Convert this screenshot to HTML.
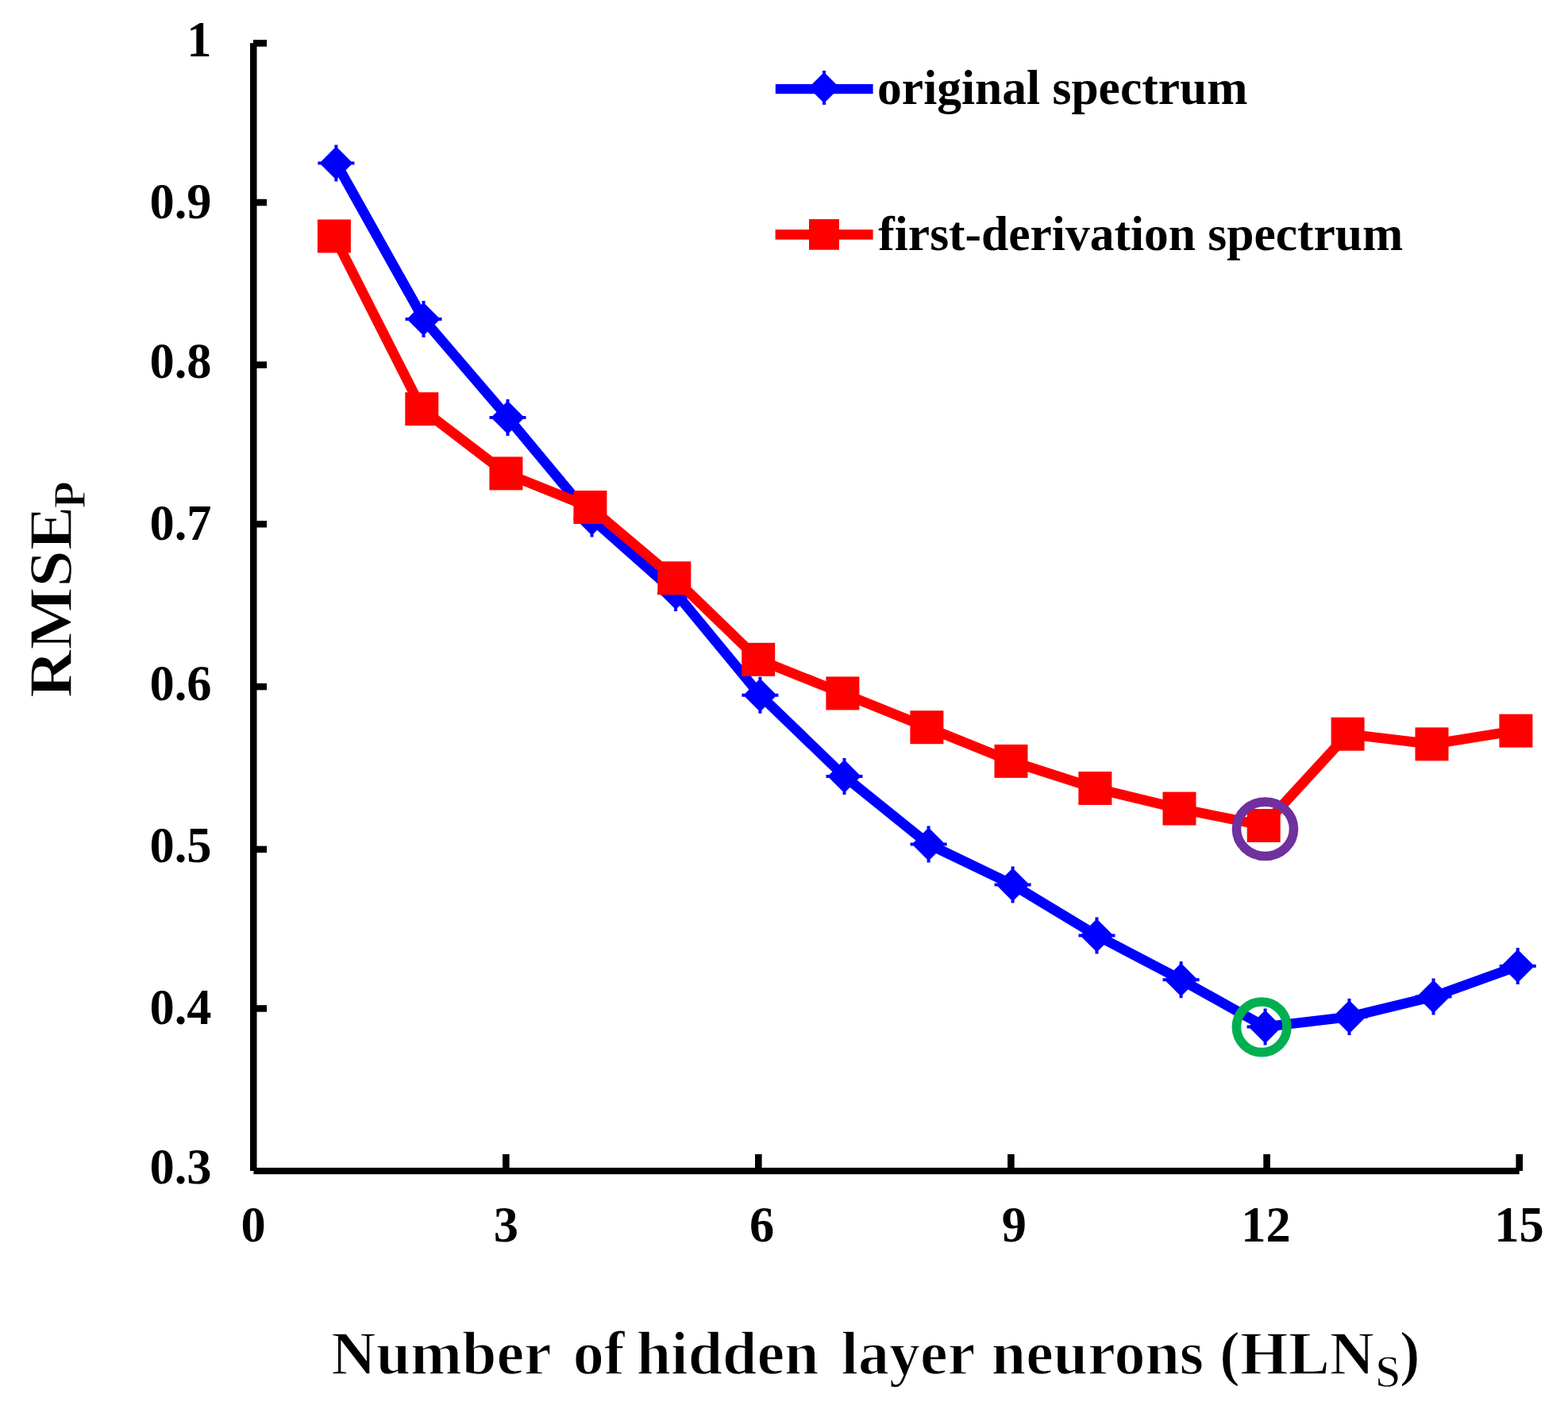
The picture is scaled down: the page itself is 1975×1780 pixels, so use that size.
<!DOCTYPE html><html><head><meta charset="utf-8"><title>RMSEP vs HLNs</title><style>html,body{margin:0;padding:0;background:#fff}svg{display:block}text{font-family:"Liberation Serif","Times New Roman",serif;font-weight:bold;fill:#000}</style></head><body>
<svg width="1975" height="1780" viewBox="0 0 1975 1780">
<rect x="0" y="0" width="1975" height="1780" fill="#fff"/>
<g fill="#000">
<rect x="315" y="54.3" width="8.5" height="1420.7"/>
<rect x="319.4" y="1471" width="1594.3" height="8.2"/>
<rect x="319" y="50.2" width="17" height="8.5"/>
<rect x="319" y="250.8" width="17" height="8.5"/>
<rect x="319" y="455.4" width="17" height="8.5"/>
<rect x="319" y="656.0" width="17" height="8.5"/>
<rect x="319" y="860.8" width="17" height="8.5"/>
<rect x="319" y="1065.7" width="17" height="8.5"/>
<rect x="319" y="1266.2" width="17" height="8.5"/>
<rect x="633.0" y="1454" width="8.6" height="21"/>
<rect x="951.0" y="1454" width="8.6" height="21"/>
<rect x="1269.1" y="1454" width="8.6" height="21"/>
<rect x="1591.3" y="1454" width="8.6" height="21"/>
<rect x="1909.4" y="1454" width="8.6" height="21"/>
</g>
<g font-size="62.4" text-anchor="end">
<text x="266.5" y="70.5">1</text>
<text x="266.5" y="275.1">0.9</text>
<text x="266.5" y="475.6">0.8</text>
<text x="266.5" y="679.8">0.7</text>
<text x="266.5" y="881.5">0.6</text>
<text x="266.5" y="1085.9">0.5</text>
<text x="266.5" y="1290.4">0.4</text>
<text x="266.5" y="1490.9">0.3</text>
</g>
<g font-size="62.4" text-anchor="middle">
<text x="319.2" y="1564">0</text>
<text x="637.3" y="1564">3</text>
<text x="959.5" y="1564">6</text>
<text x="1277.4" y="1564">9</text>
<text x="1594.5" y="1564">12</text>
<text x="1913.5" y="1564">15</text>
</g>
<polyline fill="none" stroke="#0000ff" stroke-width="12.7" stroke-linejoin="round" points="423.4,205.5 533.5,402.1 639.5,525.9 745.5,653.4 851.1,746.9 957.4,875.8 1063.5,978.0 1169.6,1063.5 1275.6,1114.5 1381.5,1178.5 1487.6,1234.2 1593.6,1293.5 1699.5,1281.0 1805.5,1255.4 1911.7,1217.1"/>
<polygon fill="#0000ff" points="421.4,182.5 425.4,182.5 425.4,186.5 442.4,203.5 446.4,203.5 446.4,207.5 442.4,207.5 425.4,224.5 425.4,228.5 421.4,228.5 421.4,224.5 404.4,207.5 400.4,207.5 400.4,203.5 404.4,203.5 421.4,186.5"/>
<polygon fill="#0000ff" points="531.5,379.1 535.5,379.1 535.5,383.1 552.5,400.1 556.5,400.1 556.5,404.1 552.5,404.1 535.5,421.1 535.5,425.1 531.5,425.1 531.5,421.1 514.5,404.1 510.5,404.1 510.5,400.1 514.5,400.1 531.5,383.1"/>
<polygon fill="#0000ff" points="637.5,502.9 641.5,502.9 641.5,506.9 658.5,523.9 662.5,523.9 662.5,527.9 658.5,527.9 641.5,544.9 641.5,548.9 637.5,548.9 637.5,544.9 620.5,527.9 616.5,527.9 616.5,523.9 620.5,523.9 637.5,506.9"/>
<polygon fill="#0000ff" points="743.5,630.4 747.5,630.4 747.5,634.4 764.5,651.4 768.5,651.4 768.5,655.4 764.5,655.4 747.5,672.4 747.5,676.4 743.5,676.4 743.5,672.4 726.5,655.4 722.5,655.4 722.5,651.4 726.5,651.4 743.5,634.4"/>
<polygon fill="#0000ff" points="849.1,723.9 853.1,723.9 853.1,727.9 870.1,744.9 874.1,744.9 874.1,748.9 870.1,748.9 853.1,765.9 853.1,769.9 849.1,769.9 849.1,765.9 832.1,748.9 828.1,748.9 828.1,744.9 832.1,744.9 849.1,727.9"/>
<polygon fill="#0000ff" points="955.4,852.8 959.4,852.8 959.4,856.8 976.4,873.8 980.4,873.8 980.4,877.8 976.4,877.8 959.4,894.8 959.4,898.8 955.4,898.8 955.4,894.8 938.4,877.8 934.4,877.8 934.4,873.8 938.4,873.8 955.4,856.8"/>
<polygon fill="#0000ff" points="1061.5,955.0 1065.5,955.0 1065.5,959.0 1082.5,976.0 1086.5,976.0 1086.5,980.0 1082.5,980.0 1065.5,997.0 1065.5,1001.0 1061.5,1001.0 1061.5,997.0 1044.5,980.0 1040.5,980.0 1040.5,976.0 1044.5,976.0 1061.5,959.0"/>
<polygon fill="#0000ff" points="1167.6,1040.5 1171.6,1040.5 1171.6,1044.5 1188.6,1061.5 1192.6,1061.5 1192.6,1065.5 1188.6,1065.5 1171.6,1082.5 1171.6,1086.5 1167.6,1086.5 1167.6,1082.5 1150.6,1065.5 1146.6,1065.5 1146.6,1061.5 1150.6,1061.5 1167.6,1044.5"/>
<polygon fill="#0000ff" points="1273.6,1091.5 1277.6,1091.5 1277.6,1095.5 1294.6,1112.5 1298.6,1112.5 1298.6,1116.5 1294.6,1116.5 1277.6,1133.5 1277.6,1137.5 1273.6,1137.5 1273.6,1133.5 1256.6,1116.5 1252.6,1116.5 1252.6,1112.5 1256.6,1112.5 1273.6,1095.5"/>
<polygon fill="#0000ff" points="1379.5,1155.5 1383.5,1155.5 1383.5,1159.5 1400.5,1176.5 1404.5,1176.5 1404.5,1180.5 1400.5,1180.5 1383.5,1197.5 1383.5,1201.5 1379.5,1201.5 1379.5,1197.5 1362.5,1180.5 1358.5,1180.5 1358.5,1176.5 1362.5,1176.5 1379.5,1159.5"/>
<polygon fill="#0000ff" points="1485.6,1211.2 1489.6,1211.2 1489.6,1215.2 1506.6,1232.2 1510.6,1232.2 1510.6,1236.2 1506.6,1236.2 1489.6,1253.2 1489.6,1257.2 1485.6,1257.2 1485.6,1253.2 1468.6,1236.2 1464.6,1236.2 1464.6,1232.2 1468.6,1232.2 1485.6,1215.2"/>
<polygon fill="#0000ff" points="1591.6,1270.5 1595.6,1270.5 1595.6,1274.5 1612.6,1291.5 1616.6,1291.5 1616.6,1295.5 1612.6,1295.5 1595.6,1312.5 1595.6,1316.5 1591.6,1316.5 1591.6,1312.5 1574.6,1295.5 1570.6,1295.5 1570.6,1291.5 1574.6,1291.5 1591.6,1274.5"/>
<polygon fill="#0000ff" points="1697.5,1258.0 1701.5,1258.0 1701.5,1262.0 1718.5,1279.0 1722.5,1279.0 1722.5,1283.0 1718.5,1283.0 1701.5,1300.0 1701.5,1304.0 1697.5,1304.0 1697.5,1300.0 1680.5,1283.0 1676.5,1283.0 1676.5,1279.0 1680.5,1279.0 1697.5,1262.0"/>
<polygon fill="#0000ff" points="1803.5,1232.4 1807.5,1232.4 1807.5,1236.4 1824.5,1253.4 1828.5,1253.4 1828.5,1257.4 1824.5,1257.4 1807.5,1274.4 1807.5,1278.4 1803.5,1278.4 1803.5,1274.4 1786.5,1257.4 1782.5,1257.4 1782.5,1253.4 1786.5,1253.4 1803.5,1236.4"/>
<polygon fill="#0000ff" points="1909.7,1194.1 1913.7,1194.1 1913.7,1198.1 1930.7,1215.1 1934.7,1215.1 1934.7,1219.1 1930.7,1219.1 1913.7,1236.1 1913.7,1240.1 1909.7,1240.1 1909.7,1236.1 1892.7,1219.1 1888.7,1219.1 1888.7,1215.1 1892.7,1215.1 1909.7,1198.1"/>
<polyline fill="none" stroke="#ff0000" stroke-width="12.7" stroke-linejoin="round" points="420.9,297.5 531.3,515.2 637.4,596.4 743.4,639.0 849.3,728.3 955.2,830.8 1061.4,873.4 1167.4,916.2 1273.5,958.9 1379.4,993.0 1485.5,1018.6 1591.7,1040.0 1697.6,924.7 1803.5,937.4 1909.4,920.6"/>
<rect fill="#ff0000" x="399.9" y="276.5" width="42" height="42"/>
<rect fill="#ff0000" x="510.3" y="494.2" width="42" height="42"/>
<rect fill="#ff0000" x="616.4" y="575.4" width="42" height="42"/>
<rect fill="#ff0000" x="722.4" y="618.0" width="42" height="42"/>
<rect fill="#ff0000" x="828.3" y="707.3" width="42" height="42"/>
<rect fill="#ff0000" x="934.2" y="809.8" width="42" height="42"/>
<rect fill="#ff0000" x="1040.4" y="852.4" width="42" height="42"/>
<rect fill="#ff0000" x="1146.4" y="895.2" width="42" height="42"/>
<rect fill="#ff0000" x="1252.5" y="937.9" width="42" height="42"/>
<rect fill="#ff0000" x="1358.4" y="972.0" width="42" height="42"/>
<rect fill="#ff0000" x="1464.5" y="997.6" width="42" height="42"/>
<rect fill="#ff0000" x="1570.7" y="1019.0" width="42" height="42"/>
<rect fill="#ff0000" x="1676.6" y="903.7" width="42" height="42"/>
<rect fill="#ff0000" x="1782.5" y="916.4" width="42" height="42"/>
<rect fill="#ff0000" x="1888.4" y="899.6" width="42" height="42"/>
<ellipse cx="1593.5" cy="1044.3" rx="36" ry="34.2" fill="none" stroke="#7030a0" stroke-width="11.6"/>
<ellipse cx="1589.2" cy="1293.8" rx="31.8" ry="31.8" fill="none" stroke="#00b050" stroke-width="11.6"/>
<rect x="976.8" y="106" width="122.8" height="12.2" fill="#0000ff"/>
<polygon fill="#0000ff" points="1036.0,89.0 1040.0,89.0 1040.0,92.9 1055.6,108.5 1059.5,108.5 1059.5,112.5 1055.6,112.5 1040.0,128.1 1040.0,132.0 1036.0,132.0 1036.0,128.1 1020.4,112.5 1016.5,112.5 1016.5,108.5 1020.4,108.5 1036.0,92.9"/>
<text x="1105.1" y="130.8" font-size="61.5">original spectrum</text>
<rect x="976.6" y="289.2" width="123" height="12.6" fill="#ff0000"/>
<rect x="1019" y="276.1" width="38" height="38.6" fill="#ff0000"/>
<text x="1106.3" y="314.7" font-size="61.5">first-derivation spectrum</text>
<g font-size="78" stroke="#fff" stroke-width="1.4">
<text x="556.0" y="1730.6" text-anchor="middle">Number</text>
<text x="754.2" y="1730.6" text-anchor="middle">of</text>
<text x="916.6" y="1730.6" text-anchor="middle">hidden</text>
<text x="1143.9" y="1730.6" text-anchor="middle">layer</text>
<text x="1382.5" y="1730.6" text-anchor="middle">neurons</text>
<text x="1633.6" y="1730.6" text-anchor="middle">(HLN</text>
<text x="1732.4" y="1747" font-size="56">S</text>
<text x="1762.7" y="1730.6">)</text>
</g>
<text transform="translate(90.2 879.3) rotate(-90)" font-size="78" textLength="242" lengthAdjust="spacingAndGlyphs" stroke="#fff" stroke-width="1.4">RMSE</text>
<text transform="translate(107.3 640.6) rotate(-90)" font-size="56" stroke="#fff" stroke-width="1.2">P</text>
</svg></body></html>
